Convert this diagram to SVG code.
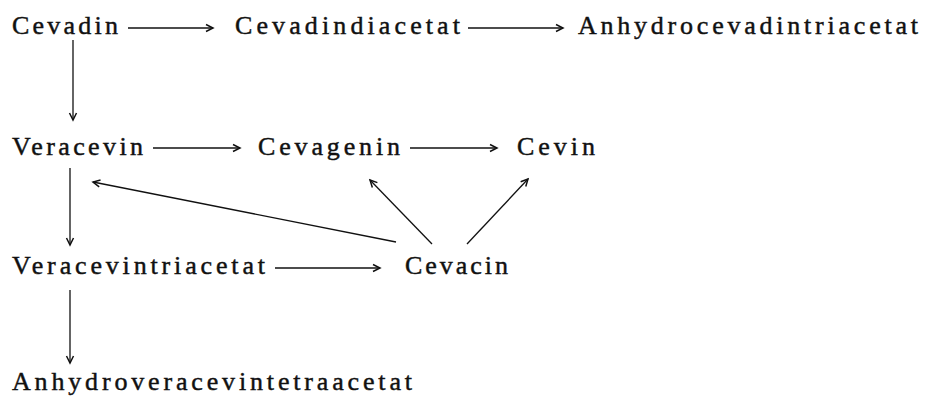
<svg xmlns="http://www.w3.org/2000/svg" width="929" height="399" viewBox="0 0 929 399">
<style>
text{font-family:"Liberation Serif","Times New Roman",serif;font-size:26px;fill:#111;stroke:#111;stroke-width:0.45;}
.c{stroke:#111;stroke-width:1.3;fill:none;}
</style>
<defs>
<marker id="ah" markerWidth="10" markerHeight="10" refX="8" refY="5" orient="auto" markerUnits="userSpaceOnUse">
<path d="M1,1.5 L8,5 L1,8.5" fill="none" stroke="#111" stroke-width="1.5"/>
</marker>
</defs>
<rect width="929" height="399" fill="#fff"/>
<g id="cevadin"><text x="12" y="34" textLength="106" lengthAdjust="spacing">Cevadin</text></g>
<g id="cevadindiacetat"><text x="235" y="34" textLength="225" lengthAdjust="spacing">Cevadindiacetat</text></g>
<g id="anhydrocevadintriacetat"><text x="578" y="34" textLength="340" lengthAdjust="spacing">Anhydrocevadintriacetat</text></g>
<g id="veracevin"><text x="12" y="155" textLength="131" lengthAdjust="spacing">Veracevin</text></g>
<g id="cevagenin"><text x="258" y="155" textLength="142" lengthAdjust="spacing">Cevagenin</text></g>
<g id="cevin"><text x="517" y="155" textLength="78" lengthAdjust="spacing">Cevin</text></g>
<g id="veracevintriacetat"><text x="12" y="274" textLength="253" lengthAdjust="spacing">Veracevintriacetat</text></g>
<g id="cevacin"><text x="405" y="274" textLength="103" lengthAdjust="spacing">Cevacin</text></g>
<g id="anhydroveracevintetraacetat"><text x="12" y="390" textLength="400" lengthAdjust="spacing">Anhydroveracevintetraacetat</text></g>
<g id="connectors">
<line class="c" x1="128" y1="28" x2="213" y2="28" marker-end="url(#ah)"/>
<line class="c" x1="468" y1="28" x2="563" y2="28" marker-end="url(#ah)"/>
<line class="c" x1="73" y1="40" x2="73" y2="120" marker-end="url(#ah)"/>
<line class="c" x1="153" y1="148" x2="240" y2="148" marker-end="url(#ah)"/>
<line class="c" x1="410" y1="148" x2="497" y2="148" marker-end="url(#ah)"/>
<line class="c" x1="70" y1="168" x2="70" y2="245" marker-end="url(#ah)"/>
<line class="c" x1="396" y1="242" x2="93" y2="182" marker-end="url(#ah)"/>
<line class="c" x1="432" y1="244" x2="370" y2="180" marker-end="url(#ah)"/>
<line class="c" x1="467" y1="244" x2="528" y2="179" marker-end="url(#ah)"/>
<line class="c" x1="275" y1="268" x2="380" y2="268" marker-end="url(#ah)"/>
<line class="c" x1="70" y1="290" x2="70" y2="363" marker-end="url(#ah)"/>
</g>
</svg>
